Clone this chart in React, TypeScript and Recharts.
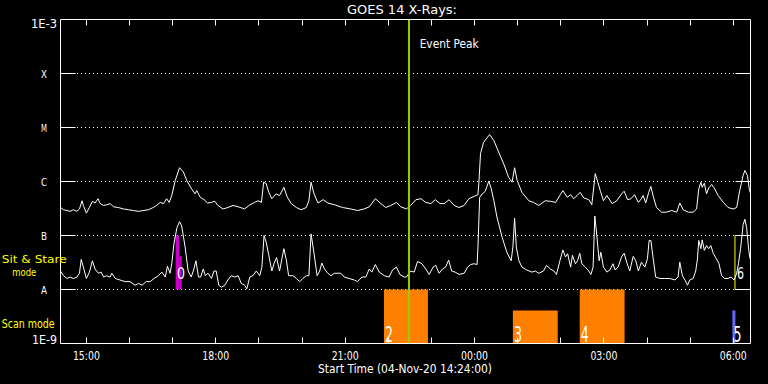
import React from 'react';
import {
  ComposedChart,
  Line,
  XAxis,
  YAxis,
  CartesianGrid,
  ReferenceArea,
  ReferenceLine,
} from 'recharts';

const FONT = '"DejaVu Sans", sans-serif';

// GOES 1.0-8.0 A channel (upper curve): time in hours since 04-Nov-20 00:00, flux W/m^2
const longTimes = [
  14.40, 14.47, 14.55, 14.62, 14.70, 14.78, 14.84, 14.90, 14.93, 15.00,
  15.07, 15.14, 15.20, 15.27, 15.32, 15.40, 15.47, 15.55, 15.63, 15.74,
  15.86, 15.98, 16.09, 16.21, 16.32, 16.44, 16.55, 16.63, 16.71, 16.79,
  16.86, 16.92, 16.98, 17.06, 17.16, 17.25, 17.33, 17.44, 17.52, 17.56, 17.64,
  17.73, 17.81, 17.90, 17.98, 18.05, 18.17, 18.28, 18.40, 18.52,
  18.67, 18.79, 18.90, 18.98, 19.06, 19.11, 19.17, 19.23, 19.30, 19.40,
  19.48, 19.58, 19.66, 19.75, 19.87, 19.98, 20.10, 20.16, 20.21, 20.28,
  20.37, 20.49, 20.60, 20.76,
  20.94, 21.13, 21.29, 21.44, 21.56, 21.70, 21.83, 21.94, 22.06, 22.19,
  22.29, 22.42, 22.52, 22.64, 22.76, 22.87, 22.99, 23.09, 23.20, 23.30,
  23.41, 23.53, 23.64, 23.76, 23.87, 23.99,
  24.08, 24.10, 24.14, 24.21, 24.35, 24.45, 24.56, 24.68, 24.79, 24.87,
  24.93, 24.99, 25.10, 25.26, 25.37, 25.49, 25.64, 25.76, 25.88, 25.99,
  26.05, 26.15, 26.23, 26.30, 26.38, 26.45, 26.53, 26.65, 26.72, 26.80,
  26.86, 26.92, 26.99, 27.07, 27.19,
  27.30, 27.41, 27.47, 27.55, 27.63, 27.71, 27.80, 27.87, 27.91, 27.97,
  28.04, 28.09, 28.15, 28.22, 28.34, 28.45, 28.57, 28.69, 28.76, 28.84,
  28.96, 29.07, 29.15, 29.20, 29.25, 29.28, 29.33, 29.38, 29.43, 29.50,
  29.57, 29.65, 29.77, 29.88, 30.00, 30.08, 30.15, 30.23, 30.27, 30.33, 30.37,
  30.40,
];
const longFlux = [
  3.3e-7, 3.0e-7, 2.9e-7, 2.8e-7, 3.0e-7, 2.8e-7, 3.1e-7, 4.4e-7, 3.6e-7, 2.6e-7,
  3.3e-7, 4.3e-7, 4.0e-7, 4.8e-7, 3.9e-7, 3.6e-7, 3.7e-7, 3.9e-7, 3.4e-7, 3.3e-7,
  3.1e-7, 3.0e-7, 2.9e-7, 2.8e-7, 2.9e-7, 3.0e-7, 3.3e-7, 3.6e-7, 4.1e-7, 3.9e-7,
  4.8e-7, 4.1e-7, 5.5e-7, 1.04e-6, 1.8e-6, 1.5e-6, 1.04e-6, 7.3e-7, 5.9e-7, 6.8e-7, 5.1e-7,
  4.6e-7, 4.0e-7, 4.1e-7, 4.3e-7, 3.6e-7, 3.1e-7, 3.3e-7, 3.6e-7, 3.4e-7,
  3.1e-7, 3.7e-7, 4.1e-7, 4.4e-7, 4.1e-7, 9.7e-7, 9.1e-7, 6.3e-7, 4.8e-7, 5.9e-7,
  5.5e-7, 7.8e-7, 5.1e-7, 3.9e-7, 3.3e-7, 3.0e-7, 3.3e-7, 4.4e-7, 9.7e-7, 5.9e-7,
  4.0e-7, 4.6e-7, 4.0e-7, 3.7e-7,
  3.3e-7, 3.1e-7, 2.9e-7, 3.1e-7, 3.4e-7, 4.8e-7, 3.9e-7, 3.3e-7, 3.6e-7, 4.1e-7,
  3.4e-7, 3.1e-7, 3.6e-7, 4.6e-7, 4.8e-7, 4.1e-7, 3.9e-7, 4.6e-7, 3.9e-7, 3.9e-7,
  4.6e-7, 3.6e-7, 3.3e-7, 3.6e-7, 4.8e-7, 5.3e-7,
  5.7e-7, 9.1e-7, 3.3e-6, 5.3e-6, 7.4e-6, 5.7e-6, 3.5e-6, 2.1e-6, 1.2e-6, 9.7e-7,
  1.8e-6, 1.04e-6, 6.3e-7, 4.4e-7, 4.1e-7, 3.6e-7, 4.4e-7, 4.3e-7, 4.1e-7, 5.7e-7,
  6.8e-7, 5.1e-7, 5.7e-7, 4.8e-7, 5.5e-7, 6.3e-7, 5.0e-7, 4.6e-7, 3.7e-7, 1.4e-6,
  9.7e-7, 6.6e-7, 4.4e-7, 5.5e-7, 3.9e-7,
  4.4e-7, 5.9e-7, 6.6e-7, 4.6e-7, 4.8e-7, 5.7e-7, 4.1e-7, 4.8e-7, 5.5e-7, 4.0e-7,
  6.3e-7, 8.1e-7, 5.1e-7, 3.3e-7, 2.7e-7, 2.7e-7, 2.9e-7, 2.7e-7, 4.0e-7, 3.0e-7,
  2.7e-7, 2.7e-7, 3.1e-7, 7.3e-7, 9.7e-7, 7.8e-7, 9.3e-7, 5.9e-7, 7.6e-7, 8.8e-7,
  7.3e-7, 5.5e-7, 4.1e-7, 3.3e-7, 3.1e-7, 3.3e-7, 6.8e-7, 1.3e-6, 1.6e-6, 1.3e-6, 7.3e-7,
  6.0e-7,
];

// GOES 0.5-4.0 A channel (lower curve)
const shortTimes = [
  14.40, 14.47, 14.55, 14.62, 14.70, 14.78, 14.84, 14.88, 14.93, 15.00,
  15.07, 15.14, 15.20, 15.28, 15.34, 15.40, 15.47, 15.55, 15.59, 15.67,
  15.78, 15.90, 16.01, 16.13, 16.21, 16.29, 16.39, 16.48, 16.57, 16.67,
  16.75, 16.83, 16.88, 16.94, 16.98, 17.03, 17.10, 17.16, 17.21, 17.29,
  17.36, 17.43, 17.48, 17.54, 17.60, 17.65, 17.71, 17.76, 17.82, 17.90,
  17.96, 18.01, 18.07, 18.13, 18.21, 18.28, 18.36, 18.44, 18.52, 18.59,
  18.67, 18.72, 18.79, 18.86, 18.94, 19.02, 19.07, 19.12, 19.17, 19.23,
  19.30, 19.35, 19.41, 19.48, 19.58, 19.64, 19.69, 19.79, 19.87, 19.95,
  20.02, 20.10, 20.16, 20.21, 20.28, 20.35, 20.41, 20.46, 20.52, 20.60, 20.67, 20.76,
  20.90, 20.98, 21.09, 21.21, 21.29, 21.39, 21.48, 21.56, 21.62, 21.70,
  21.79, 21.91, 22.02, 22.10, 22.19, 22.27, 22.37, 22.42, 22.52, 22.60,
  22.68, 22.78, 22.87, 22.95, 23.04, 23.10, 23.18, 23.26, 23.33, 23.40,
  23.47, 23.55, 23.64, 23.76, 23.84, 23.91, 23.99, 24.06, 24.08,
  24.12, 24.18, 24.25, 24.33, 24.38, 24.45, 24.52, 24.64, 24.75, 24.85,
  24.89, 24.93, 24.97, 25.03, 25.10, 25.21, 25.33, 25.41, 25.49, 25.60,
  25.67, 25.76, 25.84, 25.90, 25.98, 26.05, 26.11, 26.16, 26.23, 26.27,
  26.34, 26.39, 26.44, 26.49, 26.57, 26.65, 26.70, 26.75, 26.79, 26.84,
  26.89, 26.93, 26.99, 27.07, 27.14, 27.21,
  27.26, 27.33, 27.41, 27.47, 27.53, 27.60, 27.68, 27.74, 27.80, 27.87,
  27.95, 28.01, 28.05, 28.09, 28.15, 28.20, 28.30, 28.41, 28.53, 28.65,
  28.72, 28.76, 28.82, 28.88, 28.94, 28.99, 29.07, 29.13, 29.17, 29.20,
  29.25, 29.28, 29.33, 29.38, 29.43, 29.48, 29.54, 29.61, 29.67, 29.73,
  29.80, 29.88, 29.95, 30.02, 30.08, 30.12, 30.17, 30.23, 30.27, 30.31, 30.36, 30.39,
];
const shortFlux = [
  2.2e-8, 1.8e-8, 1.6e-8, 1.7e-8, 1.6e-8, 1.7e-8, 2.0e-8, 3.6e-8, 2.6e-8, 1.6e-8,
  2.1e-8, 3.4e-8, 2.4e-8, 2.0e-8, 2.1e-8, 1.7e-8, 1.8e-8, 1.7e-8, 2.0e-8, 1.6e-8,
  1.5e-8, 1.4e-8, 1.4e-8, 1.2e-8, 1.3e-8, 1.2e-8, 1.4e-8, 1.4e-8, 1.6e-8, 1.8e-8,
  2.1e-8, 1.7e-8, 2.7e-8, 2.0e-8, 3.0e-8, 7.0e-8, 1.4e-7, 1.8e-7, 1.5e-7, 6.1e-8,
  2.2e-8, 1.7e-8, 2.2e-8, 3.4e-8, 1.7e-8, 1.7e-8, 2.4e-8, 1.8e-8, 2.0e-8, 1.6e-8,
  2.2e-8, 2.2e-8, 1.2e-8, 1.1e-8, 1.2e-8, 1.5e-8, 1.8e-8, 1.7e-8, 1.8e-8, 1.3e-8,
  1.2e-8, 1.03e-8, 1.7e-8, 1.8e-8, 2.2e-8, 1.8e-8, 2.6e-8, 1.0e-7, 7.5e-8, 4.3e-8,
  2.2e-8, 3.0e-8, 3.9e-8, 2.2e-8, 5.7e-8, 3.4e-8, 1.8e-8, 1.8e-8, 1.6e-8, 1.4e-8,
  1.6e-8, 1.8e-8, 1.8e-8, 1.07e-7, 4.6e-8, 1.8e-8, 2.2e-8, 3.1e-8, 2.4e-8, 2.0e-8, 1.8e-8, 2.0e-8,
  2.0e-8, 1.7e-8, 1.6e-8, 1.5e-8, 1.4e-8, 1.7e-8, 1.7e-8, 2.4e-8, 2.1e-8, 2.9e-8,
  2.1e-8, 1.8e-8, 1.7e-8, 2.3e-8, 2.6e-8, 1.9e-8, 1.7e-8, 1.7e-8, 2.2e-8, 2.1e-8,
  3.3e-8, 3.0e-8, 2.4e-8, 1.9e-8, 2.6e-8, 2.8e-8, 2.0e-8, 2.4e-8, 2.6e-8, 3.5e-8,
  2.2e-8, 2.1e-8, 1.9e-8, 2.0e-8, 2.6e-8, 2.9e-8, 3.0e-8, 2.9e-8, 6.1e-8,
  5.1e-7, 5.9e-7, 6.6e-7, 1.01e-6, 7.8e-7, 4.4e-7, 2.2e-7, 9.3e-8, 4.9e-8, 3.4e-8,
  6.1e-8, 2.1e-7, 6.1e-8, 3.4e-8, 2.6e-8, 2.3e-8, 2.1e-8, 2.2e-8, 2.0e-8, 2.2e-8,
  2.8e-8, 2.4e-8, 2.2e-8, 1.9e-8, 3.4e-8, 5.4e-8, 4.0e-8, 4.6e-8, 2.6e-8, 4.3e-8,
  3.0e-8, 3.4e-8, 4.7e-8, 3.0e-8, 2.6e-8, 2.2e-8, 1.9e-8, 2.6e-8, 2.3e-7, 9.3e-8,
  3.4e-8, 4.9e-8, 2.6e-8, 2.1e-8, 2.3e-8, 3.0e-8,
  2.3e-8, 2.6e-8, 4.0e-8, 4.7e-8, 3.2e-8, 2.2e-8, 4.1e-8, 3.4e-8, 2.2e-8, 3.2e-8,
  2.6e-8, 3.7e-8, 8.1e-8, 8.1e-8, 3.4e-8, 1.7e-8, 1.6e-8, 1.6e-8, 1.6e-8, 1.5e-8,
  1.7e-8, 3.2e-8, 1.8e-8, 1.5e-8, 1.2e-8, 1.5e-8, 1.6e-8, 2.2e-8, 3.7e-8, 8.1e-8,
  5.7e-8, 8.3e-8, 5.3e-8, 6.5e-8, 5.7e-8, 6.5e-8, 4.6e-8, 3.7e-8, 3.0e-8, 1.8e-8,
  1.6e-8, 1.6e-8, 1.7e-8, 1.5e-8, 2.0e-8, 3.0e-8, 5.7e-8, 1.6e-7, 2.0e-7, 1.4e-7, 5.3e-8, 3.7e-8,
];

// axes
const timeDomain = [14.4, 30.4];
const hourTicks = [15, 16, 17, 18, 19, 20, 21, 22, 23, 24, 25, 26, 27, 28, 29, 30];
const hourLabelValues = [15, 18, 21, 24, 27, 30];
const hourLabelTexts = ['15:00', '18:00', '21:00', '00:00', '03:00', '06:00'];
const fluxTicks = [1e-9, 1e-8, 1e-7, 1e-6, 1e-5, 1e-4, 1e-3];
const fluxLabels = ['1E-9', 'A', 'B', 'C', 'M', 'X', '1E-3'];

// observing-mode events
const scanStart = [21.9, 24.89, 26.44, 29.98];
const scanEnd = [22.92, 25.93, 27.48, 30.05];
const scanTop = [1e-8, 4.1e-9, 1e-8, 4.1e-9];
const scanLabels = ['2', '3', '4', '5'];
const scanColors = ['#ff8000', '#ff8000', '#ff8000', '#6464ff'];

const stareStart = [17.07, 17.15];
const stareEnd = [17.15, 17.21];
const stareTop = [1e-7, 4.1e-8];
const stareLabels = ['0', ''];

const boxStart = [30.04];
const boxEnd = [30.4];
const boxLabels = ['6'];

const eventPeak = 22.48;

const longData = longTimes.map((t, i) => ({ t, v: longFlux[i] })).filter((d) => d.v != null);
const shortData = shortTimes.map((t, i) => ({ t, v: shortFlux[i] })).filter((d) => d.v != null);

const T = (p: any) => (
  <text
    x={p.x}
    y={p.y}
    fill={p.fill || '#fff'}
    fontFamily={FONT}
    fontSize={p.size || 12}
    textAnchor={p.anchor || 'start'}
    textLength={p.w}
    lengthAdjust="spacingAndGlyphs"
  >
    {p.text}
  </text>
);

const LeftTick = (props: any) => {
  const { x, y, payload } = props;
  const i = fluxTicks.findIndex((v) => Math.abs(Math.log10(v) - Math.log10(payload.value)) < 1e-6);
  const label = fluxLabels[i];
  const inner = i > 0 && i < fluxTicks.length - 1;
  return (
    <g>
      {inner && <line x1={x} x2={x + 15} y1={y} y2={y} stroke="#fff" strokeWidth={1} />}
      {inner && <T x={x - 16.5} y={y + 4} text={label} anchor="middle" size={10.5} w={6} />}
      {i === fluxTicks.length - 1 && <T x={x - 3.5} y={y + 8.5} text={label} anchor="end" size={12} w={26} />}
      {i === 0 && <T x={x - 3.5} y={y + 0.5} text={label} anchor="end" size={12} w={25} />}
    </g>
  );
};

const RightTick = (props: any) => {
  const { x, y, payload } = props;
  const i = fluxTicks.findIndex((v) => Math.abs(Math.log10(v) - Math.log10(payload.value)) < 1e-6);
  const inner = i > 0 && i < fluxTicks.length - 1;
  return <g>{inner && <line x1={x - 15} x2={x} y1={y} y2={y} stroke="#fff" strokeWidth={1} />}</g>;
};

const BottomTick = (props: any) => {
  const { x, y, payload } = props;
  const xx = Math.round(x - 0.5) + 0.5;
  const k = hourLabelValues.indexOf(payload.value);
  return (
    <g>
      <line x1={xx} x2={xx} y1={y} y2={y - 6} stroke="#fff" strokeWidth={1} />
      {k >= 0 && <T x={x} y={y + 16} text={hourLabelTexts[k]} anchor="middle" size={12} w={27} />}
    </g>
  );
};

const TopTick = (props: any) => {
  const { x, y } = props;
  const xx = Math.round(x - 0.5) + 0.5;
  return (
    <g>
      <line x1={xx} x2={xx} y1={y} y2={y + 6} stroke="#fff" strokeWidth={1} />
    </g>
  );
};

const AreaLabel = (props: any) => {
  const { viewBox, text, size, w, dx, dy } = props;
  if (!viewBox || !text) return null;
  return (
    <T x={viewBox.x + dx} y={viewBox.y + viewBox.height - dy} text={text} size={size} w={w} />
  );
};

const PeakLabel = (props: any) => {
  const { viewBox } = props;
  if (!viewBox) return null;
  return <T x={viewBox.x + 10.7} y={viewBox.y + 28} text="Event Peak" size={12} w={59} />;
};

export default function App() {
  return (
    <div style={{ position: 'absolute', left: 0, top: 0, width: 768, height: 384, background: '#000' }}>
      <ComposedChart
        width={768}
        height={384}
        margin={{ top: 0.5, right: 0.5, bottom: 0, left: 0.5 }}
      >
        <CartesianGrid
          xAxisId="b"
          yAxisId="l"
          vertical={false}
          stroke="#fff"
          strokeDasharray="1 3"
          shapeRendering="crispEdges"
        />
        <XAxis
          xAxisId="b"
          type="number"
          dataKey="t"
          domain={timeDomain}
          ticks={hourTicks}
          interval={0}
          allowDataOverflow
          height={40.5}
          tickSize={0}
          tickMargin={0}
          tickLine={false}
          axisLine={{ stroke: '#fff' }}
          tick={(p: any) => <BottomTick {...p} />}
        />
        <XAxis
          xAxisId="t"
          orientation="top"
          type="number"
          dataKey="t"
          domain={timeDomain}
          ticks={hourTicks}
          interval={0}
          allowDataOverflow
          height={19}
          tickSize={0}
          tickMargin={0}
          tickLine={false}
          axisLine={{ stroke: '#fff' }}
          tick={(p: any) => <TopTick {...p} />}
        />
        <YAxis
          yAxisId="l"
          type="number"
          scale="log"
          domain={[1e-9, 1e-3]}
          ticks={fluxTicks}
          interval={0}
          allowDataOverflow
          width={60}
          tickSize={0}
          tickMargin={0}
          tickLine={false}
          axisLine={{ stroke: '#fff' }}
          tick={(p: any) => <LeftTick {...p} />}
        />
        <YAxis
          yAxisId="r"
          orientation="right"
          type="number"
          scale="log"
          domain={[1e-9, 1e-3]}
          ticks={fluxTicks}
          interval={0}
          allowDataOverflow
          width={17}
          tickSize={0}
          tickMargin={0}
          tickLine={false}
          axisLine={{ stroke: '#fff' }}
          tick={(p: any) => <RightTick {...p} />}
        />

        {scanStart.map((s, i) => (
          <ReferenceArea
            key={'scan' + i}
            xAxisId="b"
            yAxisId="l"
            x1={s}
            x2={scanEnd[i]}
            y1={1e-9}
            y2={scanTop[i]}
            fill={scanColors[i]}
            fillOpacity={1}
            stroke="none"
            ifOverflow="visible"
            label={<AreaLabel text={scanLabels[i]} size={21} w={8} dx={1} dy={1.2} />}
          />
        ))}
        {stareStart.map((s, i) => (
          <ReferenceArea
            key={'stare' + i}
            xAxisId="b"
            yAxisId="l"
            x1={s}
            x2={stareEnd[i]}
            y1={1e-8}
            y2={stareTop[i]}
            fill="#cc00cc"
            fillOpacity={1}
            stroke="none"
            ifOverflow="visible"
          />
        ))}

        <Line
          xAxisId="b"
          yAxisId="l"
          data={longData}
          dataKey="v"
          type="linear"
          stroke="#fff"
          strokeWidth={1}
          dot={false}
          activeDot={false}
          isAnimationActive={false}
        />
        <Line
          xAxisId="b"
          yAxisId="l"
          data={shortData}
          dataKey="v"
          type="linear"
          stroke="#fff"
          strokeWidth={1}
          dot={false}
          activeDot={false}
          isAnimationActive={false}
        />

        {stareStart.map((s, i) => (
          <ReferenceArea
            key={'starelab' + i}
            xAxisId="b"
            yAxisId="l"
            x1={s}
            x2={stareEnd[i]}
            y1={1e-8}
            y2={stareTop[i]}
            fill="none"
            fillOpacity={0}
            stroke="none"
            ifOverflow="visible"
            label={<AreaLabel text={stareLabels[i]} size={16} w={8} dx={1.3} dy={11} />}
          />
        ))}
        {boxStart.map((s, i) => (
          <ReferenceArea
            key={'box' + i}
            xAxisId="b"
            yAxisId="l"
            x1={s}
            x2={boxEnd[i]}
            y1={1e-8}
            y2={1e-7}
            fill="none"
            fillOpacity={0}
            stroke="#ffff00"
            strokeWidth={1}
            ifOverflow="visible"
            label={<AreaLabel text={boxLabels[i]} size={15} w={7} dx={2} dy={11} />}
          />
        ))}

        <ReferenceLine
          xAxisId="b"
          yAxisId="l"
          x={eventPeak}
          stroke="#99cc00"
          strokeWidth={2}
          ifOverflow="visible"
          label={<PeakLabel />}
        />
      </ComposedChart>
      <svg
        width={768}
        height={384}
        style={{ position: 'absolute', left: 0, top: 0, pointerEvents: 'none' }}
      >
        <T x={347} y={14} text="GOES 14 X-Rays:" size={12} w={110} />
        <T x={318} y={372.5} text="Start Time (04-Nov-20 14:24:00)" size={12} w={174} />
        <T x={1.7} y={262.5} text="Sit & Stare" size={11} w={65} fill="#ffff00" />
        <T x={12.3} y={276} text="mode" size={11} w={24} fill="#ffff00" />
        <T x={1.7} y={328.3} text="Scan mode" size={11.5} w={53} fill="#ffff00" />
      </svg>
    </div>
  );
}
